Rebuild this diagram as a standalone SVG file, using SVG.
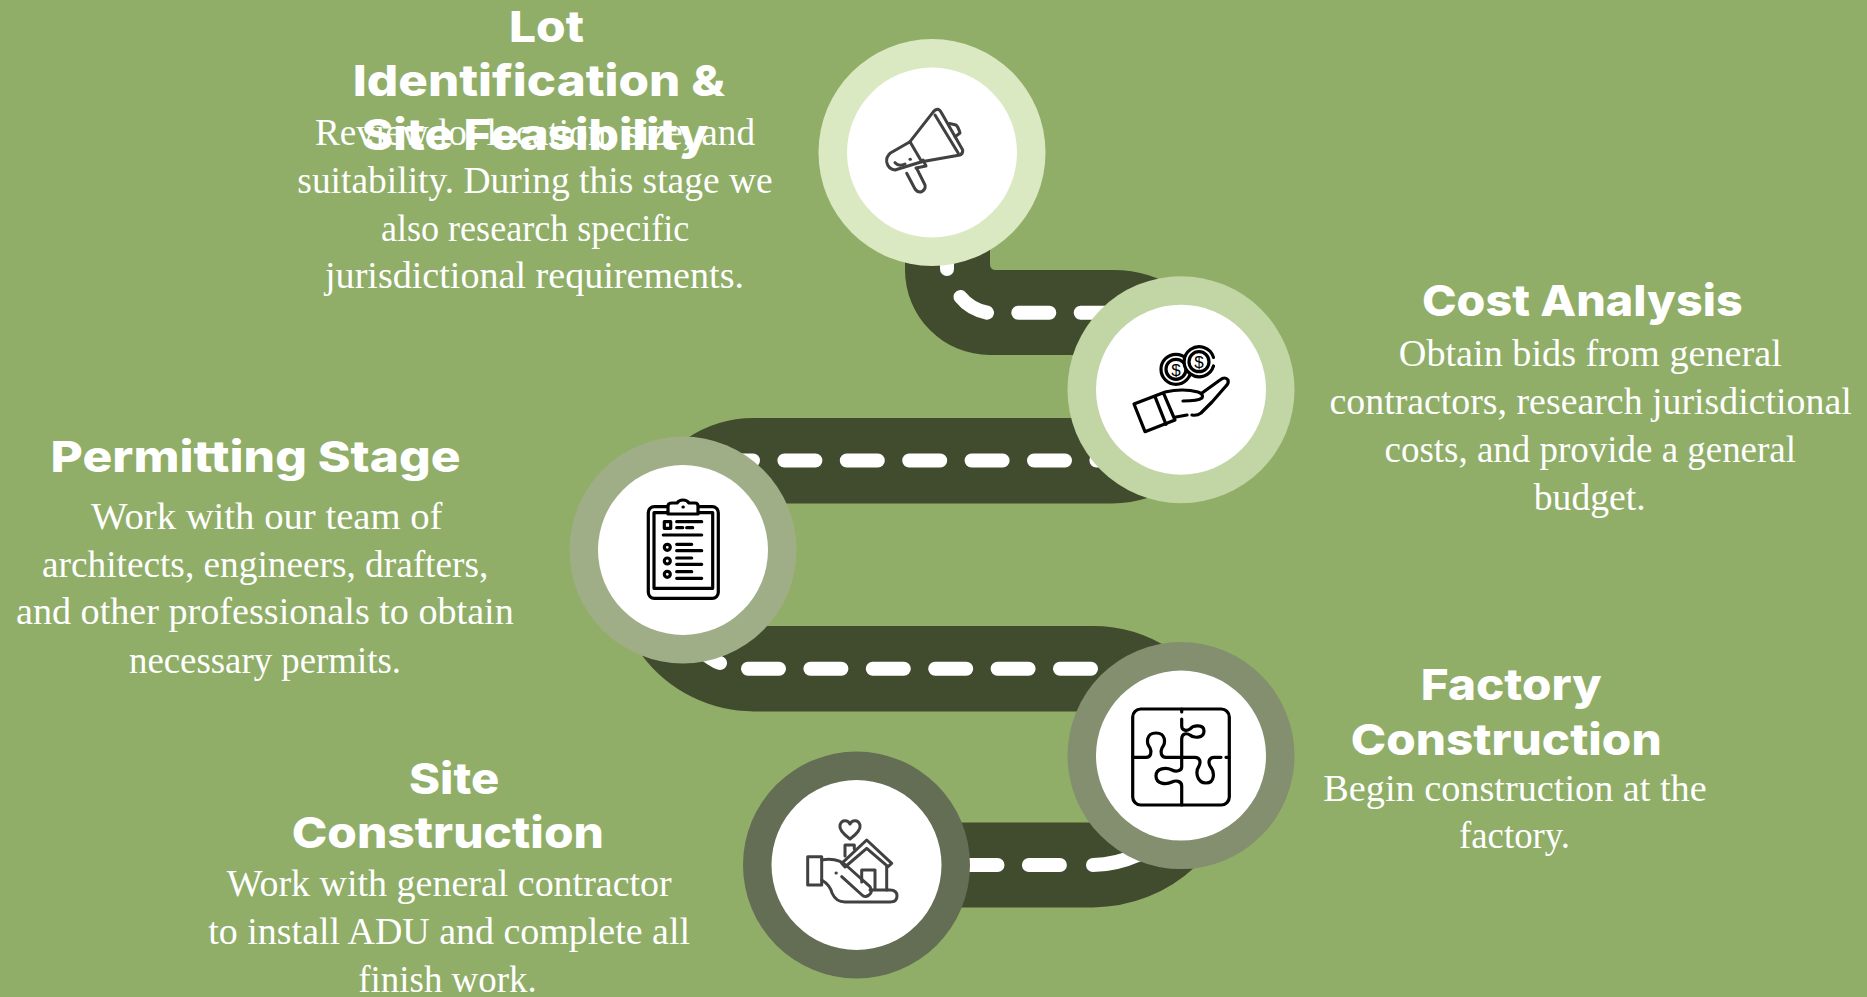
<svg xmlns="http://www.w3.org/2000/svg" width="1867" height="997" viewBox="0 0 1867 997">
<style>
.road{fill:#404C2D}
.lane{fill:none;stroke:#fff;stroke-width:14;stroke-linecap:round}
.dash{stroke-dasharray:31 31.4}
.core{fill:#fff}
.h{font-family:"Inter","Liberation Sans",sans-serif;font-weight:800;font-size:43px;fill:#fff}
.b{font-family:"Liberation Serif",serif;font-size:38px;fill:#fff}
.ic{fill:none;stroke-linecap:round;stroke-linejoin:round}
.k{stroke:#000;stroke-width:3.2}
.g{stroke:#414141;stroke-width:3}
.d{font-family:"Liberation Sans",sans-serif;font-size:17px;fill:#000;text-anchor:middle}
</style>
<rect width="1867" height="997" fill="#90AE68"/>
<g id="connectors">
<path class="road" d="M905,240V270A85,85 0 0 0 990,355H1150V300H1181L1181,291A120,120 0 0 0 1113,270H996Q990,270 990,264V240Z"/>
<path class="road" d="M683,503.4V439H686A120,120 0 0 1 754,418H1160V481H1181A120,120 0 0 1 1112,503.4Z"/>
<path class="road" d="M642.4,656A140,140 0 0 0 754,711.4H1140V680H1170V649A140,140 0 0 0 1093,626H700V640Z"/>
<path class="road" d="M856,822.5H1130V840H1175V860L1195,867A150,150 0 0 1 1093,907.4H856Z"/>
<path class="lane" d="M947,262V269"/>
<path class="lane" d="M960.5,297Q970,309 987,312.7"/>
<path class="lane dash" d="M1018.3,312.7H1115"/>
<path class="lane dash" d="M722,460.5H1120"/>
<path class="lane" d="M700,650Q712,660 720,663"/>
<path class="lane dash" d="M748,668.7H1100"/>
<path class="lane dash" d="M966.5,865H1061"/>
<path class="lane" d="M1093,865Q1115,865 1140,854"/>
</g>
<g id="node-lot">
<circle cx="932" cy="152.5" r="113.5" fill="#DBE9C3"/>
<circle class="core" cx="932" cy="152.5" r="85"/>
<g class="ic g">
<path d="M910,141.7L932.7,112.7Q935,109 938.3,109.3Q940,110 941,112L962.7,150Q963,154 960,155L921.7,161.7"/>
<path d="M935,115L958.3,153.3"/>
<path d="M949.5,123.5L956,125Q958.3,127 960,133L955,136.7"/>
<path d="M910,141.7L890,153.3Q886,157 886.7,162Q888,169 895,170L921.7,161.7L910,141.7"/>
<path d="M906.7,173.3L915,189Q918,193 922,191.5Q926,189 925,185L916.7,168.3"/>
<path d="M916,168L926,166L923,160"/>
<path d="M895,162.7Q899,167 905,164"/>
<path d="M910,159.2h.4"/>
</g>
<text class="h" x="509" y="41.7" textLength="75" lengthAdjust="spacingAndGlyphs">Lot</text>
<text class="h" x="352.7" y="96" textLength="372.3" lengthAdjust="spacingAndGlyphs">Identification &amp;</text>
<text class="b" x="315" y="145" textLength="440" lengthAdjust="spacingAndGlyphs">Review lot location, size, and</text>
<text class="h" x="361.7" y="150" textLength="346.6" lengthAdjust="spacingAndGlyphs">Site Feasibility</text>
<text class="b" x="297.3" y="192.7" textLength="475.4" lengthAdjust="spacingAndGlyphs">suitability. During this stage we</text>
<text class="b" x="381" y="240.7" textLength="308.3" lengthAdjust="spacingAndGlyphs">also research specific</text>
<text class="b" x="325" y="288.3" textLength="419" lengthAdjust="spacingAndGlyphs">jurisdictional requirements.</text>
</g>
<g id="node-cost">
<circle cx="1181" cy="389.7" r="113.5" fill="#C2D5A5"/>
<circle class="core" cx="1181" cy="389.7" r="85"/>
<g class="ic k">
<path d="M1134,404L1163.3,392.7L1175,420L1145,431.7Z"/>
<path d="M1155,396.7L1166,424.3"/>
<path d="M1165,392Q1183,388 1198,392Q1204,394 1202,398Q1198,401 1183,401"/>
<path d="M1202,393L1220,380Q1225,376 1228,380Q1229,383 1226,386L1212,402L1201,413Q1197,416 1192,415"/>
<path d="M1187,415L1176,417"/>
<circle cx="1176" cy="369.3" r="15"/>
<circle cx="1176" cy="369.3" r="10"/>
<circle cx="1199" cy="361.7" r="15" fill="#fff" stroke="none"/>
<path d="M1213.5,366A15,15 0 1 1 1213.5,357.4"/>
<circle cx="1199" cy="361.7" r="10"/>
</g>
<text class="d" x="1176" y="375.5">$</text>
<text class="d" x="1199" y="367.7">$</text>
<text class="h" x="1421.9" y="316" textLength="320.8" lengthAdjust="spacingAndGlyphs">Cost Analysis</text>
<text class="b" x="1398.8" y="366" textLength="383" lengthAdjust="spacingAndGlyphs">Obtain bids from general</text>
<text class="b" x="1329.5" y="414" textLength="522.2" lengthAdjust="spacingAndGlyphs">contractors, research jurisdictional</text>
<text class="b" x="1384.6" y="461.7" textLength="411.4" lengthAdjust="spacingAndGlyphs">costs, and provide a general</text>
<text class="b" x="1533.8" y="510" textLength="111.9" lengthAdjust="spacingAndGlyphs">budget.</text>
</g>
<g id="node-permit">
<circle cx="683" cy="550" r="113.5" fill="#9FAE87"/>
<circle class="core" cx="683" cy="550" r="85"/>
<g class="ic k">
<rect x="648.3" y="506.7" width="70" height="91.6" rx="6"/>
<rect x="654" y="512.7" width="58.7" height="75.6"/>
<path d="M668,514V506Q668,503 672,503H677Q679,500 683,500Q687,500 689,503H695Q698,503 698,506V514Z" fill="#fff"/>
<path d="M683,507h.3"/>
<rect x="664.3" y="521.7" width="6.4" height="6.6"/>
<path d="M676.7,521.7H701.7M676.7,527.7H682.7M686.7,527.7H692.7M663.3,535H701.7M676.7,544.3H691.7M676.7,550.7H701.7M676.7,558H691.7M676.7,564.3H701.7M676.7,571.7H691.7M676.7,578.3H701.7"/>
<circle cx="667.3" cy="547.3" r="3"/>
<circle cx="667.3" cy="561" r="3"/>
<circle cx="667.3" cy="574.3" r="3"/>
</g>
<text class="h" x="50.6" y="472.3" textLength="410.1" lengthAdjust="spacingAndGlyphs">Permitting Stage</text>
<text class="b" x="91" y="529" textLength="351.5" lengthAdjust="spacingAndGlyphs">Work with our team of</text>
<text class="b" x="42" y="576.7" textLength="446.3" lengthAdjust="spacingAndGlyphs">architects, engineers, drafters,</text>
<text class="b" x="16" y="624.3" textLength="497.8" lengthAdjust="spacingAndGlyphs">and other professionals to obtain</text>
<text class="b" x="129" y="673.3" textLength="272" lengthAdjust="spacingAndGlyphs">necessary permits.</text>
</g>
<g id="node-factory">
<circle cx="1181" cy="755.6" r="113.5" fill="#838F6E"/>
<circle class="core" cx="1181" cy="755.6" r="85"/>
<g class="ic k">
<rect x="1132.7" y="709" width="96.6" height="96" rx="8"/>
<path d="M1181.7,709V712"/>
<path d="M1181.7,719V726C1181.7,731 1187,731 1190,729C1193,725 1204,724 1204,731C1204,739 1193,738 1190,735C1187,733 1181.7,733 1181.7,739V757"/>
<path d="M1133,757.3H1146C1151,757.3 1152,752 1150,748C1146,743 1146,733 1156,733C1166,733 1166,743 1162,748C1160,752 1161,757.3 1166,757.3H1181.7"/>
<path d="M1181.7,757.3H1195C1200,757.3 1201,762 1199,766C1195,772 1197,783 1206,783C1215,783 1215,772 1210,766C1208,762 1209,757.3 1214,757.3H1221M1226,757.3H1229"/>
<path d="M1181.7,757V767C1181.7,771 1176,772 1172,770C1166,767 1156,768 1156,776C1156,784 1166,785 1172,782C1176,780 1181.7,781 1181.7,786V805"/>
</g>
<text class="h" x="1420.7" y="700" textLength="181" lengthAdjust="spacingAndGlyphs">Factory</text>
<text class="h" x="1350.7" y="755" textLength="311" lengthAdjust="spacingAndGlyphs">Construction</text>
<text class="b" x="1323.3" y="800.7" textLength="383.4" lengthAdjust="spacingAndGlyphs">Begin construction at the</text>
<text class="b" x="1459" y="848.3" textLength="111" lengthAdjust="spacingAndGlyphs">factory.</text>
</g>
<g id="node-site">
<circle cx="856.5" cy="865" r="113.5" fill="#636E55"/>
<circle class="core" cx="856.5" cy="865" r="85"/>
<g class="ic g">
<path d="M850,839C842,833 839,829 840,825C842,819 848,820 850,824C852,820 858,819 860,825C861,829 858,833 850,839Z"/>
<path d="M845,856V845H854.3V849"/>
<path d="M841.7,863.3L866.7,840L891.7,863.3L888,866.7L866.7,848.3L845,867Z"/>
<path d="M886.7,866.7V890"/>
<path d="M861.7,882V870H875V889"/>
<rect x="807.7" y="856.7" width="14" height="28.3"/>
<path d="M821.7,860Q838,857 848,867L870,886.7Q873,892 869,895Q865,898 862,895L841.7,876.7"/>
<path d="M821.7,880Q830,885 832,893Q836,902 845,902H890Q897,902 897,896Q897,890 890,890H870"/>
<path d="M836,873h.3"/>
</g>
<text class="h" x="409" y="794" textLength="90.3" lengthAdjust="spacingAndGlyphs">Site</text>
<text class="h" x="291.7" y="848.3" textLength="312.3" lengthAdjust="spacingAndGlyphs">Construction</text>
<text class="b" x="226.7" y="896" textLength="445" lengthAdjust="spacingAndGlyphs">Work with general contractor</text>
<text class="b" x="208.3" y="944" textLength="481.7" lengthAdjust="spacingAndGlyphs">to install ADU and complete all</text>
<text class="b" x="358.3" y="991.7" textLength="178.4" lengthAdjust="spacingAndGlyphs">finish work.</text>
</g>
</svg>
